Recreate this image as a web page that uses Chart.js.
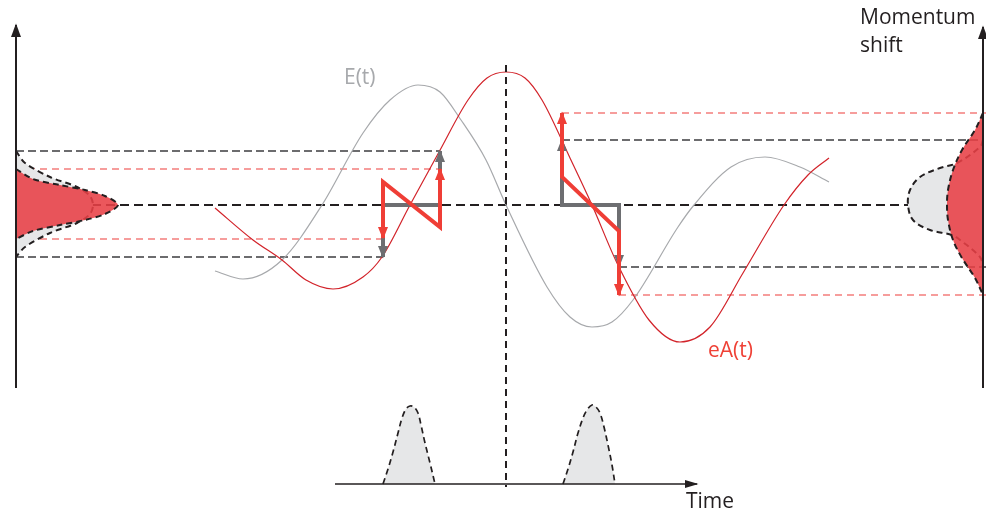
<!DOCTYPE html>
<html>
<head>
<meta charset="utf-8">
<script src="https://cdn.jsdelivr.net/npm/chart.js@4.4.1/dist/chart.umd.min.js"></script>
<style>
  html, body { margin: 0; padding: 0; background: #fff; }
  #wrap { width: 986px; height: 515px; position: relative; }
</style>
</head>
<body>
<div id="wrap"><canvas id="c"></canvas></div>
<script>
// Coordinates: t = time (arbitrary units, 0 at the field peak), p = momentum (0 at the unshifted centre)

// Laser field E(t) and vector potential eA(t), sampled as [t, p]
const fieldE = [[-292,-66],[-264,-74],[-225,-55],[-185,0],[-144,72],[-117,105],[-89,120],[-67,113],[-46,85],[-21,45],[-1,0],[40,-82],[63,-112],[85,-122],[105,-117],[126,-95],[171,-22],[187,0],[224,38],[258,48],[293,38],[322,23]];
const vectorPotential = [[-292,-3],[-254,-35],[-225,-55],[-201,-75],[-174,-84],[-144,-72],[-125,-52],[-97,0],[-68,53],[-39,105],[-20,127],[-1,133],[18,127],[35,105],[63,47],[85,0],[110,-58],[142,-115],[173,-137],[203,-122],[236,-68],[277,0],[301,30],[322,47]];

// Probe pulse envelopes on the time axis
const probePulse1 = [[-124,-279],[-119,-264],[-114,-247],[-109,-228],[-105,-213],[-101,-204],[-97,-201],[-93,-202],[-89,-208],[-86,-220],[-82,-238],[-77,-258],[-72,-279]];
const probePulse2 = [[56,-279],[61,-264],[66,-247],[71,-228],[76,-213],[80,-205],[85,-200],[89,-202],[93,-208],[97,-222],[101,-240],[105,-260],[108,-279]];

// Momentum distributions on the left axis (before) and right axis (after)
const leftDistGray = [[-491,54],[-482,42],[-457,28],[-430,18],[-417,9],[-414,0],[-417,-9],[-430,-18],[-457,-28],[-482,-42],[-491,-52]];
const leftDistRed = [[-491,36],[-474,26],[-447,20],[-422,15],[-402,9],[-389,0],[-402,-9],[-422,-15],[-447,-20],[-474,-26],[-491,-34]];
const rightDistGray = [[476,65],[473,58],[450,42],[433,37],[413,28],[403,15],[401,0],[406,-15],[423,-25],[445,-30],[453,-35],[473,-52],[476,-62]];
const rightDistRed = [[476,92],[468,75],[455,55],[446,35],[441,15],[440,0],[441,-15],[446,-35],[455,-53],[468,-73],[476,-90]];

// Momentum kicks: gray = field-free step, red = streaked sweep
const grayStepLeft = [[-124,-52],[-124,0],[-67,0],[-67,54]];
const redSweepLeft = [[-124,-33],[-124,23],[-67,-22],[-67,36]];
const grayStepRight = [[55,65],[55,0],[112,0],[112,-61]];
const redSweepRight = [[55,92],[55,28],[112,-26],[112,-90]];

// Level guides: [t from, t to, p]
const guidesBlack = [[-491,-67,54],[-491,-124,-52],[55,476,65],[112,479,-62]];
const guidesRed = [[-491,-67,36],[-491,-124,-34],[55,479,92],[112,479,-90]];

// Axes and reference lines
const baseline = [[-415,0],[401,0]];
const zeroTime = [[-1,140],[-1,-282]];
const leftAxis = [[-491,-183],[-491,180]];
const rightAxis = [[476,-183],[476,178]];
const timeAxis = [[-172,-279],[190,-279]];

// Text labels: [text, t, p, colour]
const captionsList = [
  ['E(t)', -163, 121, '#a7a9ac'],
  ['eA(t)', 201, -152, '#ef4136'],
  ['Time', 179, -303, '#231f20'],
  ['Momentum', 353, 181, '#231f20'],
  ['shift', 353, 153, '#231f20']
];

const toPoints = arr => arr.map(([x, y]) => ({ x, y }));
function line(data, style) {
  return Object.assign({
    data: toPoints(data), borderColor: '#000', borderWidth: 1,
    pointRadius: 0, pointHoverRadius: 0, fill: false, tension: 0
  }, style);
}

function tracePath(ctx, pts) {
  ctx.moveTo(pts[0].x, pts[0].y);
  for (let i = 1; i < pts.length; i++) {
    const a = pts[i - 1], b = pts[i];
    if (a.cp2x != null && b.cp1x != null) ctx.bezierCurveTo(a.cp2x, a.cp2y, b.cp1x, b.cp1y, b.x, b.y);
    else ctx.lineTo(b.x, b.y);
  }
}

// Fills a dataset's outline as a closed shape, underneath its border
const shapeFill = {
  id: 'shapeFill',
  beforeDatasetDraw(chart, args) {
    const ds = chart.data.datasets[args.index];
    if (!ds.shapeColor) return;
    const meta = args.meta;
    meta.dataset.updateControlPoints(chart.chartArea, meta.iScale.axis);
    const ctx = chart.ctx;
    ctx.save();
    ctx.beginPath();
    tracePath(ctx, meta.data);
    ctx.closePath();
    ctx.fillStyle = ds.shapeColor;
    ctx.fill();
    ctx.restore();
  }
};

// Arrowheads at the start/end of a polyline
const arrowHeads = {
  id: 'arrowHeads',
  afterDatasetDraw(chart, args) {
    const ds = chart.data.datasets[args.index];
    if (!ds.head) return;
    const pts = args.meta.data, n = pts.length, ctx = chart.ctx;
    const draw = (tip, from) => {
      const dx = tip.x - from.x, dy = tip.y - from.y, d = Math.hypot(dx, dy) || 1;
      const ux = dx / d, uy = dy / d;
      const bx = tip.x - ux * ds.head.len, by = tip.y - uy * ds.head.len;
      const hw = ds.head.width / 2;
      ctx.beginPath();
      ctx.moveTo(tip.x + ux * 1.5, tip.y + uy * 1.5);
      ctx.lineTo(bx - uy * hw, by + ux * hw);
      ctx.lineTo(bx + uy * hw, by - ux * hw);
      ctx.closePath();
      ctx.fillStyle = ds.borderColor;
      ctx.fill();
    };
    ctx.save();
    if (ds.head.end) draw(pts[n - 1], pts[n - 2]);
    if (ds.head.start) draw(pts[0], pts[1]);
    ctx.restore();
  }
};

const captions = {
  id: 'captions',
  afterDraw(chart) {
    const { ctx, scales: { x, y } } = chart;
    ctx.save();
    ctx.font = '21px "Open Sans", "DejaVu Sans", sans-serif';
    ctx.textBaseline = 'alphabetic';
    ctx.textAlign = 'left';
    for (const [text, t, p, color] of captionsList) {
      ctx.fillStyle = color;
      ctx.fillText(text, x.getPixelForValue(t), y.getPixelForValue(p));
    }
    ctx.restore();
  }
};

const DASH_INK = '#231f20';
const layers = [
  ...guidesBlack.map(([a, b, p]) => line([[a, p], [b, p]], { borderColor: '#3d3d3f', borderWidth: 1.3, borderDash: [8, 4] })),
  ...guidesRed.map(([a, b, p]) => line([[a, p], [b, p]], { borderColor: '#ee3d3a', borderWidth: 1.1, borderDash: [7, 5] })),
  line(baseline, { borderColor: DASH_INK, borderWidth: 2, borderDash: [9, 5] }),
  line(fieldE, { borderColor: '#a7a9ac', borderWidth: 1.2, cubicInterpolationMode: 'monotone' }),
  line(vectorPotential, { borderColor: '#d2232a', borderWidth: 1.2, cubicInterpolationMode: 'monotone' }),
  line(zeroTime, { borderColor: DASH_INK, borderWidth: 2, borderDash: [7, 5] }),
  line(leftDistGray, { shapeColor: '#e6e7e8', borderColor: DASH_INK, borderWidth: 2, borderDash: [6, 4], tension: 0.3 }),
  line(leftDistRed, { shapeColor: 'rgba(232,64,70,0.88)', borderColor: DASH_INK, borderWidth: 2, borderDash: [6, 4], tension: 0.3 }),
  line(rightDistGray, { shapeColor: '#e6e7e8', borderColor: DASH_INK, borderWidth: 2, borderDash: [6, 4], tension: 0.35 }),
  line(rightDistRed, { shapeColor: 'rgba(232,64,70,0.88)', borderColor: DASH_INK, borderWidth: 2, borderDash: [6, 4], tension: 0.35 }),
  line(leftAxis, { borderColor: DASH_INK, borderWidth: 2, head: { end: true, len: 12, width: 10 } }),
  line(rightAxis, { borderColor: DASH_INK, borderWidth: 2, head: { end: true, len: 12, width: 10 } }),
  line(probePulse1, { shapeColor: '#e6e7e8', borderColor: DASH_INK, borderWidth: 1.7, borderDash: [6, 4], tension: 0.35 }),
  line(probePulse2, { shapeColor: '#e6e7e8', borderColor: DASH_INK, borderWidth: 1.7, borderDash: [6, 4], tension: 0.35 }),
  line(timeAxis, { borderColor: DASH_INK, borderWidth: 1.4, head: { end: true, len: 12, width: 8 } }),
  line(grayStepLeft, { borderColor: '#6d6e71', borderWidth: 4, borderJoinStyle: 'miter', head: { start: true, end: true, len: 11, width: 10 } }),
  line(grayStepRight, { borderColor: '#6d6e71', borderWidth: 4, borderJoinStyle: 'miter', head: { start: true, end: true, len: 11, width: 10 } }),
  line(redSweepLeft, { borderColor: '#ef3e36', borderWidth: 4, borderJoinStyle: 'miter', head: { start: true, end: true, len: 11, width: 10 } }),
  line(redSweepRight, { borderColor: '#ef3e36', borderWidth: 4, borderJoinStyle: 'miter', head: { start: true, end: true, len: 11, width: 10 } })
];
// first entry is the bottom layer
layers.forEach((ds, i) => { ds.order = layers.length - i; });

function build() {
  new Chart(document.getElementById('c'), {
    type: 'line',
    data: { datasets: layers },
    options: {
      responsive: true,
      maintainAspectRatio: false,
      animation: false,
      events: [],
      layout: { padding: 0, autoPadding: false },
      scales: {
        x: { type: 'linear', min: -507, max: 479, display: false },
        y: { type: 'linear', min: -310, max: 205, display: false }
      },
      plugins: { legend: { display: false }, tooltip: { enabled: false } }
    },
    plugins: [shapeFill, arrowHeads, captions]
  });
}
if (document.fonts && document.fonts.load) {
  document.fonts.load('21px "Open Sans"').then(build, build);
} else {
  build();
}
</script>
</body>
</html>
